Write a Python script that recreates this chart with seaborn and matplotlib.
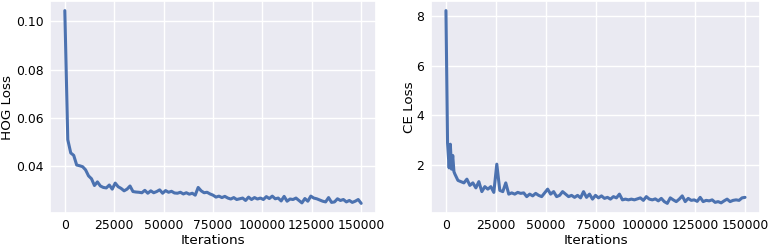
import matplotlib
matplotlib.use("Agg")
import matplotlib.pyplot as plt
import seaborn as sns
import pandas as pd

hog_iters = list(range(0, 150001, 1500))
hog_loss = [
    0.1045, 0.0510, 0.0455, 0.0445, 0.0405, 0.0402, 0.0398, 0.0385, 0.0360, 0.0348,
    0.0320, 0.0335, 0.0318, 0.0312, 0.0310, 0.0322, 0.0305, 0.0330, 0.0315, 0.0308,
    0.0298, 0.0305, 0.0318, 0.0295, 0.0293, 0.0292, 0.0290, 0.0300, 0.0288, 0.0298,
    0.0290, 0.0295, 0.0302, 0.0288, 0.0299, 0.0292, 0.0296, 0.0289, 0.0288, 0.0292,
    0.0285, 0.0290, 0.0284, 0.0288, 0.0280, 0.0312, 0.0298, 0.0290, 0.0292, 0.0285,
    0.0280, 0.0272, 0.0276, 0.0270, 0.0275, 0.0268, 0.0264, 0.0270, 0.0262, 0.0265,
    0.0268, 0.0258, 0.0272, 0.0262, 0.0270, 0.0264, 0.0268, 0.0262, 0.0274, 0.0266,
    0.0276, 0.0265, 0.0268, 0.0256, 0.0275, 0.0255, 0.0264, 0.0262, 0.0268, 0.0258,
    0.0248, 0.0266, 0.0255, 0.0276, 0.0268, 0.0265, 0.0260, 0.0255, 0.0252, 0.0270,
    0.0250, 0.0252, 0.0265, 0.0258, 0.0262, 0.0252, 0.0258, 0.0250, 0.0255, 0.0262,
    0.0246,
]

ce_iters = [0, 800, 1600, 2200, 2800, 3400, 4000] + list(range(4500, 150001, 1500))
ce_loss = [
    8.20, 2.90, 1.90, 2.85, 1.85, 2.40, 1.75,
    1.65, 1.40, 1.35, 1.30, 1.45, 1.20, 1.30, 1.10, 1.35, 0.95,
    1.15, 1.05, 1.15, 0.92, 2.05, 1.00, 0.95, 1.30, 0.85, 0.90,
    0.85, 0.92, 0.88, 0.90, 0.75, 0.85, 0.78, 0.88, 0.80, 0.75,
    0.90, 1.05, 0.85, 0.95, 0.75, 0.80, 0.95, 0.85, 0.75, 0.80,
    0.72, 0.80, 0.70, 0.95, 0.72, 0.85, 0.65, 0.80, 0.70, 0.78,
    0.68, 0.72, 0.65, 0.75, 0.70, 0.85, 0.62, 0.65, 0.62, 0.65,
    0.62, 0.66, 0.70, 0.60, 0.75, 0.65, 0.62, 0.66, 0.58, 0.68,
    0.55, 0.48, 0.70, 0.62, 0.55, 0.65, 0.78, 0.55, 0.68, 0.60,
    0.62, 0.56, 0.72, 0.55, 0.60, 0.58, 0.62, 0.52, 0.55, 0.50,
    0.58, 0.65, 0.55, 0.60, 0.62, 0.60, 0.70, 0.72,
]

sns.set_theme(style="darkgrid")
plt.rcParams['font.family'] = ['DejaVu Sans']
for key in ("text.color", "axes.labelcolor", "xtick.color", "ytick.color"):
    plt.rcParams[key] = "black"

fig = plt.figure(figsize=(7.7, 2.46), dpi=100)
ax1 = fig.add_axes([50/770, 1 - 213/246, 326/770, 212/246])
ax2 = fig.add_axes([431/770, 1 - 213/246, 329/770, 212/246])

color = "#4c72b0"
df1 = pd.DataFrame({"Iterations": hog_iters, "HOG Loss": hog_loss})
df2 = pd.DataFrame({"Iterations": ce_iters, "CE Loss": ce_loss})
sns.lineplot(data=df1, x="Iterations", y="HOG Loss", ax=ax1, color=color, linewidth=2.2)
sns.lineplot(data=df2, x="Iterations", y="CE Loss", ax=ax2, color=color, linewidth=2.2)

tick_fs = 8.9
label_fs = 9.7
for ax in (ax1, ax2):
    ax.set_xticks([0, 25000, 50000, 75000, 100000, 125000, 150000])
    ax.tick_params(axis="x", labelsize=tick_fs, pad=4.5, length=0)
    ax.tick_params(axis="y", labelsize=tick_fs, pad=4.8, length=0)
    ax.xaxis.label.set_size(label_fs)
    ax.yaxis.label.set_size(label_fs)
    ax.xaxis.labelpad = 1.4

ax1.yaxis.labelpad = 1.0
ax2.yaxis.labelpad = 0.2

ax1.set_yticks([0.04, 0.06, 0.08, 0.10])
ax1.set_yticklabels(["0.04", "0.06", "0.08", "0.10"])
ax2.set_yticks([2, 4, 6, 8])

fig.savefig("out.png", dpi=100)
